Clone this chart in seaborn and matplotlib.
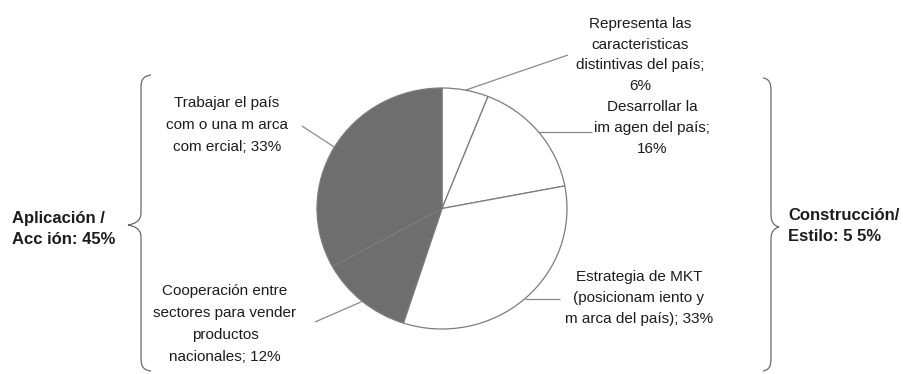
import matplotlib
matplotlib.use("Agg")
import matplotlib.pyplot as plt
import seaborn as sns
import numpy as np
from matplotlib.path import Path
from matplotlib.patches import PathPatch

# Data: share of each strategy (clockwise from 12 o'clock)
categories = [
    "Representa las\ncaracteristicas\ndistintivas del país;\n6%",
    "Desarrollar la\nim agen del país;\n16%",
    "Estrategia de MKT\n(posicionam iento y\nm arca del país); 33%",
    "Cooperación entre\nsectores para vender\nproductos\nnacionales; 12%",
    "Trabajar el país\ncom o una m arca\ncom ercial; 33%",
]
values = [6, 16, 33, 12, 33]
groups = ["white", "white", "white", "gray", "gray"]
group_labels = ["Aplicación /\nAcc ión: 45%", "Construcción/\nEstilo: 5 5%"]

sns.set_theme(style="white")
plt.rcParams["font.family"] = ["Liberation Sans", "DejaVu Sans"]

W, H = 904, 374
fig = plt.figure(figsize=(W / 100, H / 100), dpi=100)
fig.patch.set_facecolor("white")

# Overlay in pixel coordinates for labels, leaders and braces
ov = fig.add_axes([0, 0, 1, 1])
ov.set_xlim(0, W)
ov.set_ylim(H, 0)
ov.axis("off")

# Pie axes: slightly elliptical pie centred near (442, 208)
cx, cy, rx, ry = 442, 208.5, 125, 120.5
pie_ax = fig.add_axes([(cx - rx) / W, (H - cy - ry) / H, 2 * rx / W, 2 * ry / H])
fill = {"white": "white", "gray": "#6e6e6e"}
wedges, _ = pie_ax.pie(
    values,
    colors=[fill[g] for g in groups],
    startangle=90,
    counterclock=False,
    wedgeprops=dict(edgecolor="#7c7c7c", linewidth=0.9),
)
pie_ax.set_aspect("auto")
pie_ax.set_xlim(-1, 1)
pie_ax.set_ylim(-1, 1)
pie_ax.axis("off")


def edge_point(w):
    ang = np.deg2rad((w.theta1 + w.theta2) / 2)
    disp = pie_ax.transData.transform((np.cos(ang), np.sin(ang)))
    return ov.transData.inverted().transform(disp)


# Label placement (block centre, line spacing) and leader end points
label_pos = [(640, 55, 1.62), (652, 128, 1.62), (639, 298, 1.62),
             (225, 324, 1.75), (227, 125, 1.72)]
leader_end = [(568, 55), (592, None), (560, None), (315, 322), (302, 126)]

txt_color = "#1c1c1c"
for w, lab, (lx, ly, ls), (ex, ey) in zip(wedges, categories, label_pos, leader_end):
    sx, sy = edge_point(w)
    if ey is None:
        ey = sy
    ov.plot([sx, ex], [sy, ey], color="#8a8a8a", lw=0.9, solid_capstyle="butt")
    ov.text(lx, ly, lab, ha="center", va="center", multialignment="center",
            fontsize=11, color=txt_color, linespacing=ls)

# Group totals
ov.text(12, 229, group_labels[0], ha="left", va="center", fontsize=12,
        fontweight="bold", color=txt_color, linespacing=1.42)
ov.text(788, 226, group_labels[1], ha="left", va="center", fontsize=12,
        fontweight="bold", color=txt_color, linespacing=1.42)


def brace(xb, xh, xt, y0, ym, y1):
    verts = [
        (xh, y0),
        (xb + (xh - xb) * 0.2, y0 + 1), (xb, y0 + 5), (xb, y0 + 13),
        (xb, ym - 12),
        (xb, ym - 4), (xt + (xb - xt) * 0.5, ym - 1), (xt, ym),
        (xt + (xb - xt) * 0.5, ym + 1), (xb, ym + 4), (xb, ym + 12),
        (xb, y1 - 13),
        (xb, y1 - 5), (xb + (xh - xb) * 0.2, y1 - 1), (xh, y1),
    ]
    codes = [Path.MOVETO,
             Path.CURVE4, Path.CURVE4, Path.CURVE4,
             Path.LINETO,
             Path.CURVE4, Path.CURVE4, Path.CURVE4,
             Path.CURVE4, Path.CURVE4, Path.CURVE4,
             Path.LINETO,
             Path.CURVE4, Path.CURVE4, Path.CURVE4]
    ov.add_patch(PathPatch(Path(verts, codes), fill=False, edgecolor="#6a6a6a", lw=0.9))


brace(141, 151, 128, 75, 225, 371)
brace(771, 763, 779, 78, 227, 371)

fig.savefig("out.png", dpi=100, facecolor="white")
